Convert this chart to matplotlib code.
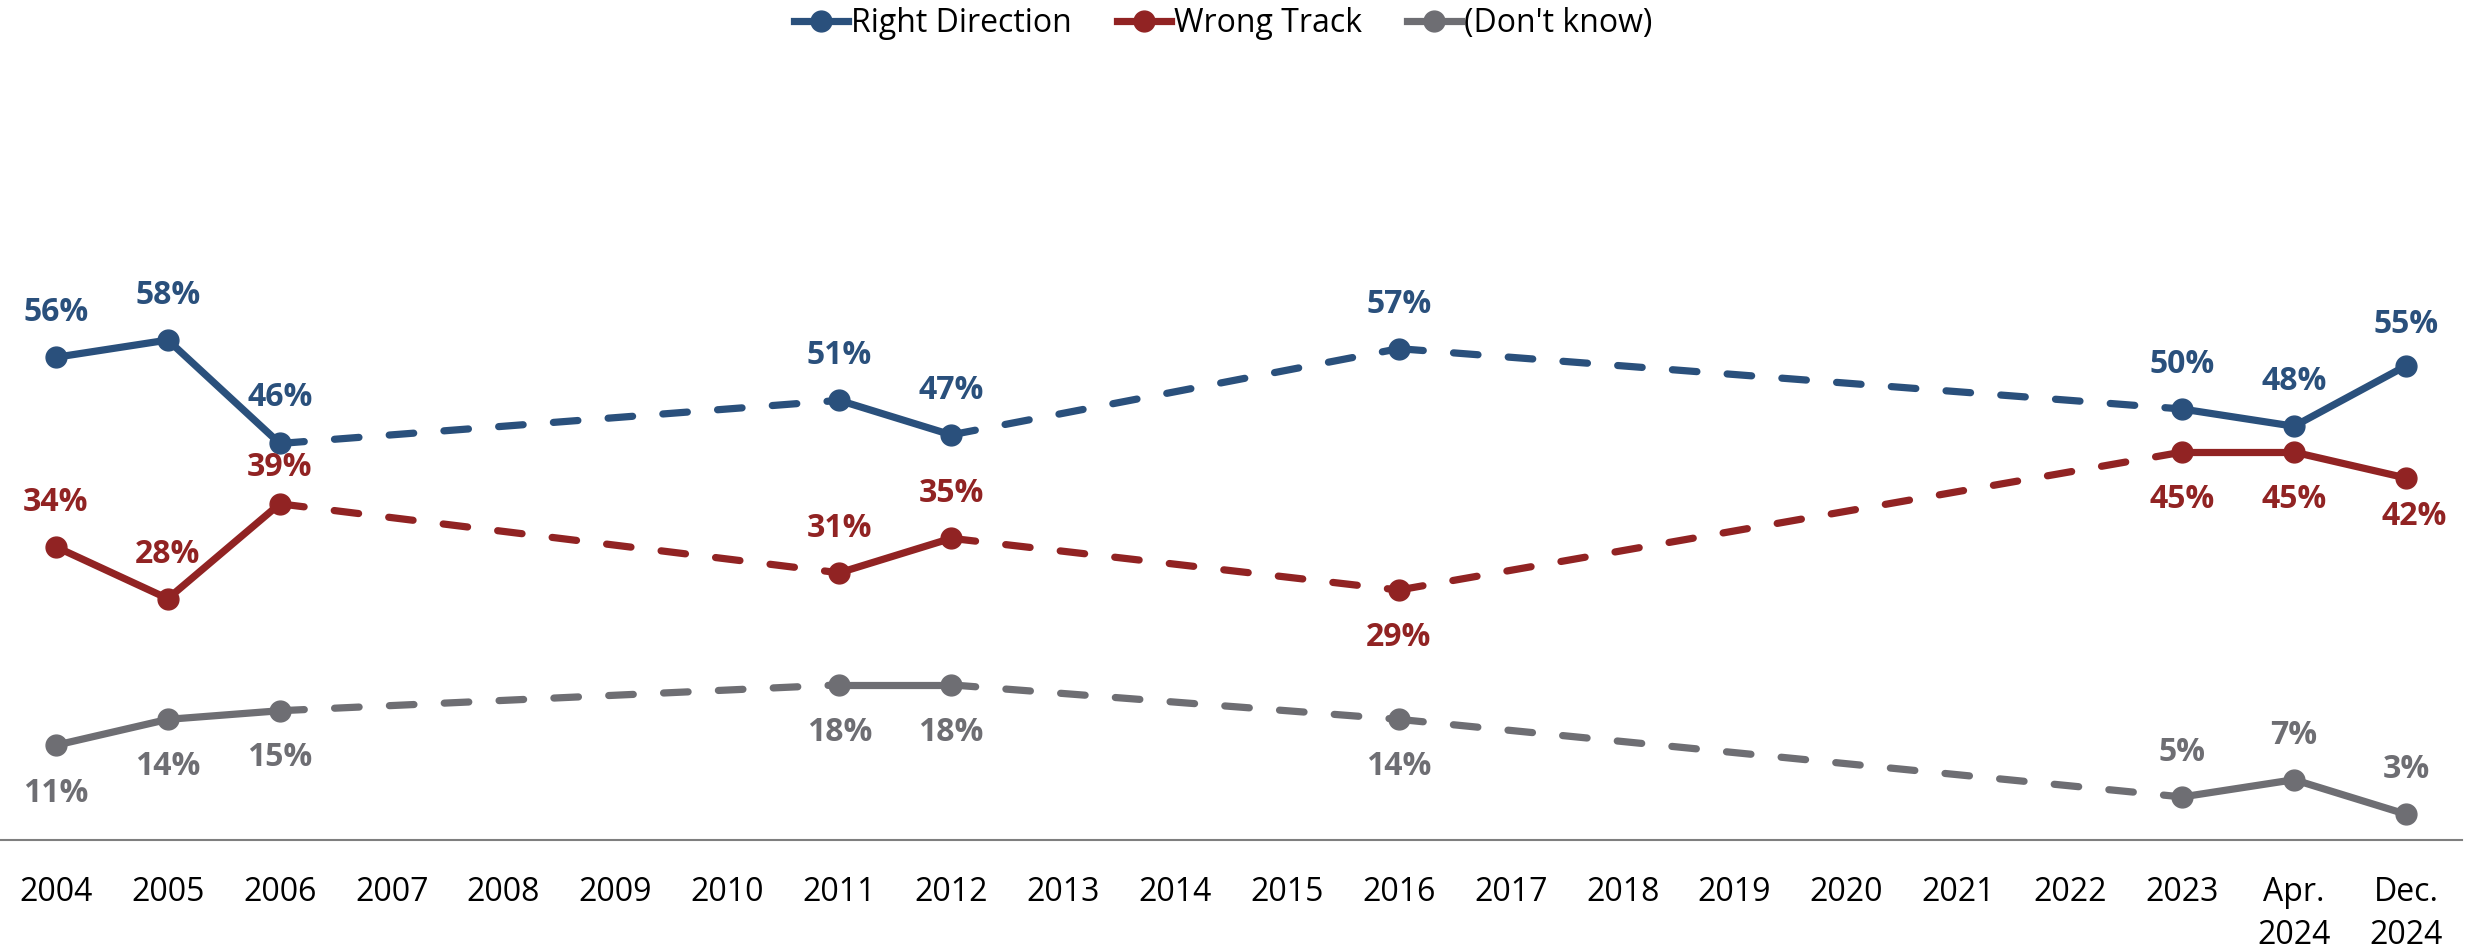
import matplotlib
matplotlib.use("Agg")
import matplotlib.pyplot as plt
from matplotlib.lines import Line2D
import numpy as np

categories = ["2004", "2005", "2006", "2007", "2008", "2009", "2010", "2011", "2012",
              "2013", "2014", "2015", "2016", "2017", "2018", "2019", "2020", "2021",
              "2022", "2023", "Apr.\n2024", "Dec.\n2024"]
survey_points = ["2004", "2005", "2006", "2011", "2012", "2016", "2023", "Apr.\n2024", "Dec.\n2024"]
right_direction = [56, 58, 46, 51, 47, 57, 50, 48, 55]
wrong_track = [34, 28, 39, 31, 35, 29, 45, 45, 42]
dont_know = [11, 14, 15, 18, 18, 14, 5, 7, 3]

series_names = ["Right Direction", "Wrong Track", "(Don't know)"]
colors = ["#2A507C", "#912323", "#6E6E73"]
# label offsets in points (dx, dy)
offsets = [
    [(0, 32), (0, 32), (0, 33), (0, 32), (0, 32), (0, 32), (0, 32), (0, 32), (0, 30)],
    [(0, 32), (0, 32), (0, 26), (0, 32), (0, 32), (0, -34), (0, -34), (0, -34), (6, -28)],
    [(0, -35), (0, -34), (0, -34), (0, -34), (0, -34), (0, -34), (0, 32), (0, 32), (0, 32)],
]

plt.rcParams['font.family'] = ['Open Sans', 'DejaVu Sans']

fig = plt.figure(figsize=(24.71, 9.52), dpi=100)
ax = fig.add_axes([0.0, 0.1176, 0.9963, 0.815])

xpos = np.array([categories.index(c) for c in survey_points])
lw = 5.2
ms = 15
for vals, col, offs in zip([right_direction, wrong_track, dont_know], colors, offsets):
    vals = np.array(vals)
    for i in range(len(xpos) - 1):
        xs = xpos[i:i + 2]
        ys = vals[i:i + 2]
        if xs[1] - xs[0] == 1:
            ax.plot(xs, ys, color=col, lw=lw, solid_capstyle='round', zorder=2)
        else:
            ax.plot(xs, ys, color=col, lw=lw, dashes=(3.4, 4.2),
                    dash_capstyle='round', zorder=2)
    ax.plot(xpos, vals, linestyle='none', marker='o', markersize=ms,
            color=col, zorder=3)
    for x, v, (dx, dy) in zip(xpos, vals, offs):
        ax.annotate(f"{v}%", (x, v), xytext=(dx, dy), textcoords='offset points',
                    ha='center', va='center', fontsize=23, fontweight='bold',
                    color=col, zorder=4)

ax.set_xlim(-0.5, len(categories) - 0.5)
ax.set_ylim(0, 90)
ax.set_xticks(range(len(categories)))
ax.set_xticklabels(categories, fontsize=23, linespacing=1.4)
ax.tick_params(axis='x', length=0, pad=26)
ax.set_yticks([])
for s in ['top', 'right', 'left']:
    ax.spines[s].set_visible(False)
ax.spines['bottom'].set_color('#7F7F7F')
ax.spines['bottom'].set_linewidth(1.5)

handles = [Line2D([0], [0], color=c, lw=lw, marker='o', markersize=ms) for c in colors]
fig.legend(handles, series_names, loc='center', bbox_to_anchor=(0.495, 0.975),
           ncol=3, frameon=False, fontsize=23, handlelength=1.7,
           handletextpad=0.1, columnspacing=1.4)

fig.savefig("out.png", dpi=100)
